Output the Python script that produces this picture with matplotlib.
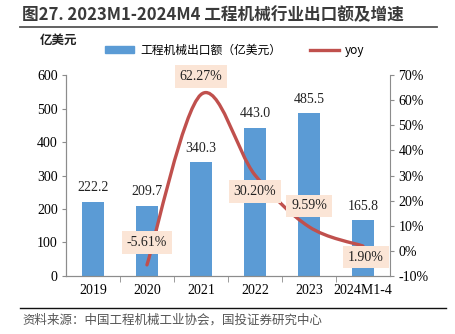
import matplotlib
matplotlib.use('Agg')
import matplotlib.pyplot as plt
from matplotlib.path import Path
from matplotlib.patches import PathPatch, Patch
from matplotlib.lines import Line2D
from matplotlib.ticker import FuncFormatter

plt.rcParams['font.family'] = ['Liberation Serif', 'Noto Sans CJK SC']

years = ['2019', '2020', '2021', '2022', '2023', '2024M1-4']
export = [222.2, 209.7, 340.3, 443.0, 485.5, 165.8]
yoy_labels = ['2020', '2021', '2022', '2023', '2024M1-4']
yoy = [-5.61, 62.27, 30.20, 9.59, 1.90]

bar_color = '#5B9BD5'
line_color = '#C0504D'
box_color = '#FBE5D6'
spine_color = '#8C8C8C'
cjk = ['Noto Sans CJK SC', 'DejaVu Sans']


def smooth_path(xs, ys):
    # excel-like smoothed line as cubic bezier segments
    verts = [(xs[0], ys[0])]
    codes = [Path.MOVETO]
    n = len(xs)
    for i in range(n - 1):
        x0, y0 = (xs[i - 1], ys[i - 1]) if i > 0 else (xs[i], ys[i])
        x1, y1 = xs[i], ys[i]
        x2, y2 = xs[i + 1], ys[i + 1]
        x3, y3 = (xs[i + 2], ys[i + 2]) if i + 2 < n else (xs[i + 1], ys[i + 1])
        c1 = (x1 + (x2 - x0) / 6, y1 + (y2 - y0) / 6)
        c2 = (x2 - (x3 - x1) / 6, y2 - (y3 - y1) / 6)
        verts += [c1, c2, (x2, y2)]
        codes += [Path.CURVE4] * 3
    return Path(verts, codes)


fig = plt.figure(figsize=(4.55, 3.34), dpi=100)
ax = fig.add_axes([0.145, 0.174, 0.712, 0.601])
ax2 = ax.twinx()

x = list(range(len(years)))
bars = ax.bar(x, export, width=0.41, color=bar_color, zorder=2)
for xi, v in zip(x, export):
    ax.text(xi, v + 22, f'{v:.1f}', ha='center', va='bottom', fontsize=10, color='#222222')

ax.set_xlim(-0.5, len(years) - 0.5)
ax.set_ylim(0, 600)
ax.set_yticks(range(0, 601, 100))
ax.set_xticks(x)
ax.set_xticklabels(years)
ax.set_xticks([i + 0.5 for i in range(len(years) - 1)], minor=True)
ax.tick_params(axis='x', which='major', length=0, labelsize=10, pad=6)
ax.tick_params(axis='x', which='minor', length=4, color=spine_color, direction='out')
ax.tick_params(axis='y', length=3, color=spine_color, labelsize=10, pad=3)

ax2.set_ylim(-10, 70)
ax2.set_yticks(range(-10, 71, 10))
ax2.yaxis.set_major_formatter(FuncFormatter(lambda v, p: f'{v:.0f}%'))
ax2.tick_params(axis='y', length=3, color=spine_color, labelsize=10, pad=3)

for a in (ax, ax2):
    for s in a.spines.values():
        s.set_color(spine_color)
    a.spines['top'].set_visible(False)
ax.spines['right'].set_visible(False)

yx = [years.index(c) for c in yoy_labels]
patch = PathPatch(smooth_path(yx, yoy), facecolor='none', edgecolor=line_color,
                  lw=2.4, capstyle='round', zorder=3)
ax2.add_patch(patch)

# label offsets in points (dx, dy)
offsets = [(0, 16), (0, 13), (0, -12), (0, 15), (2, -8)]
for xi, v, (dx, dy) in zip(yx, yoy, offsets):
    ax2.annotate(f'{v:.2f}%', (xi, v), xytext=(dx, dy), textcoords='offset points',
                 ha='center', va='center', fontsize=10, color='#222222', zorder=5,
                 bbox=dict(boxstyle='square,pad=0.35', fc=box_color, ec='none'))

# legend
handles = [Patch(color=bar_color), Line2D([], [], color=line_color, lw=2.4)]
fig.legend(handles, ['工程机械出口额（亿美元）', 'yoy'], loc='center', ncol=2,
           bbox_to_anchor=(0.516, 0.85), frameon=False,
           handlelength=2.5, handleheight=0.6, columnspacing=2.4, handletextpad=0.5,
           prop={'family': cjk, 'size': 8.5})

fig.text(0.088, 0.868, '亿美元', fontsize=9, fontweight='bold', family=cjk, color='#222222')

# title and rules
fig.text(0.048, 0.955, '图27. 2023M1-2024M4 工程机械行业出口额及增速', fontsize=12,
         fontweight='bold', family=cjk, color='#3a3a3a', va='center')
fig.add_artist(Line2D([0.045, 0.96], [0.918, 0.918], color='#555555', lw=1.3))
fig.add_artist(Line2D([0.045, 0.98], [0.078, 0.078], color='#111111', lw=1.0))
fig.text(0.05, 0.04, '资料来源：中国工程机械工业协会，国投证券研究中心', fontsize=9,
         family=cjk, style='italic', color='#555555', va='center')

fig.savefig('out.png', dpi=100)
